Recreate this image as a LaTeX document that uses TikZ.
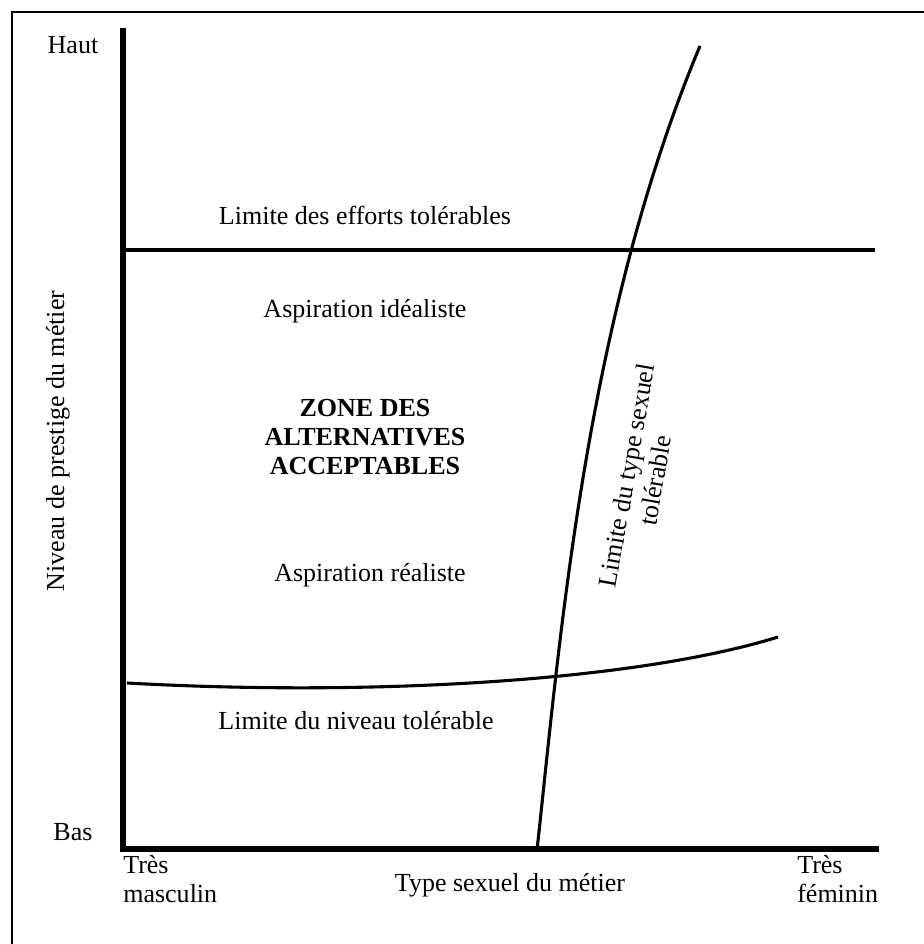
\documentclass[tikz,border=0pt]{standalone}
\usepackage{fontspec}
\setmainfont{Liberation Serif}[Ligatures=TeX]
\usepackage{tikz}
\usetikzlibrary{calc}

\begin{document}
\begin{tikzpicture}[x=0.025cm, y=-0.025cm,
  lbl/.style={inner sep=0pt, font=\fontsize{18.5}{20.5}\selectfont},
  limit/.style={line width=2.2pt},
  axis/.style={line width=3.8pt}]
\useasboundingbox (0,0) rectangle (924,944);
\draw[line width=2.1pt] (12,960) -- (12,12) -- (940,12);
% axes
\coordinate (O) at (123,849);
\coordinate (Ytop) at (123,31);
\coordinate (Xend) at (876,849);
\draw[axis, line cap=rect] (Ytop) -- (O) -- (Xend);
\draw[limit] (123,250) -- (875,250);
\draw[limit] (127,683) .. controls (380,697) and (640,680) .. (778,637);
\draw[limit] (537,850) .. controls (560,640) and (585,320) .. (700,46);
% labels
\node[lbl] (haut) at (73,45) {Haut};
\node[lbl] (bas) at (73,832) {Bas};
\node[lbl, rotate=90] (niveau) at (58,441) {Niveau de prestige du métier};
\node[lbl, align=left, anchor=west] (masc) at (123,879) {Très\\masculin};
\node[lbl, align=left, anchor=west] (fem) at (797,879) {Très\\féminin};
\node[lbl] (type) at (510,885) {Type sexuel du métier};
\node[lbl] (efforts) at (365,215) {Limite des efforts tolérables};
\node[lbl] (ideal) at (365,311) {Aspiration idéaliste};
\node[lbl, align=center, font=\fontsize{18.5}{20.8}\selectfont\bfseries] (zone) at (365,437) {ZONE DES\\ALTERNATIVES\\ACCEPTABLES};
\node[lbl] (real) at (370,575) {Aspiration réaliste};
\node[lbl] (niv) at (356,721) {Limite du niveau tolérable};
\node[lbl, align=center, rotate=80] (sexe) at (641,478) {Limite du type sexuel\\tolérable};
\end{tikzpicture}
\end{document}
